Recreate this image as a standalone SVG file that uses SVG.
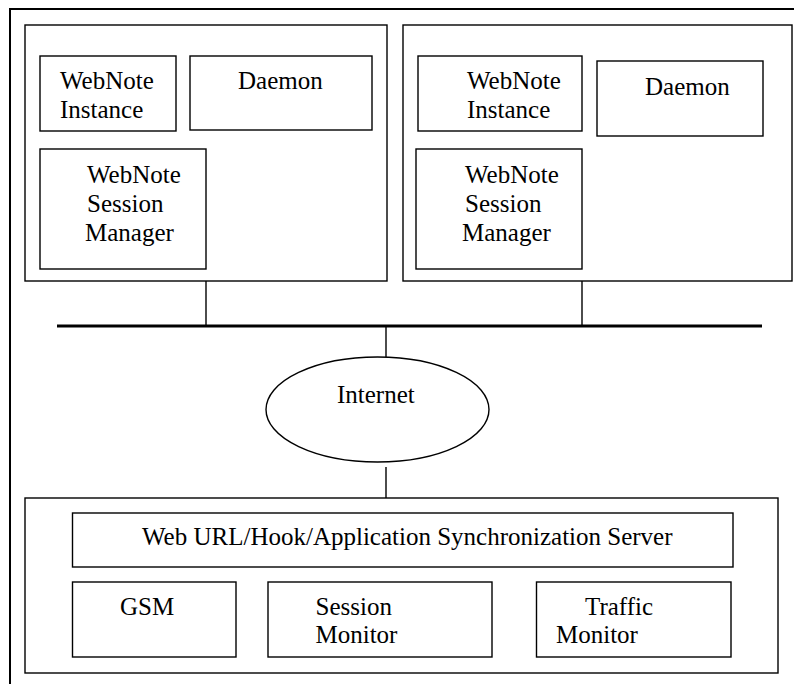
<svg xmlns="http://www.w3.org/2000/svg" width="794" height="684" viewBox="0 0 794 684">
<style>
  .box { fill: #fff; stroke: #000; stroke-width: 1.4; }
  .line { stroke: #000; stroke-width: 1.4; fill: none; }
  .bus { stroke: #000; stroke-width: 3.2; fill: none; }
  .frame { stroke: #000; stroke-width: 2; fill: none; }
  text { font-family: "Liberation Serif", "Times New Roman", serif; font-size: 25px; fill: #000; }
</style>
<rect x="0" y="0" width="794" height="684" fill="#fff"/>
<path class="frame" d="M10,684 V9 H794"/>

<g id="client-left">
  <rect class="box" x="25" y="25" width="362" height="256"/>
  <g id="left-instance">
    <rect class="box" x="40" y="56" width="136" height="75"/>
    <text x="60" y="89">WebNote</text>
    <text x="60" y="118">Instance</text>
  </g>
  <g id="left-daemon">
    <rect class="box" x="190" y="56" width="182" height="74"/>
    <text x="238" y="89">Daemon</text>
  </g>
  <g id="left-session-manager">
    <rect class="box" x="40" y="149" width="166" height="120"/>
    <text x="87" y="183">WebNote</text>
    <text x="87" y="212">Session</text>
    <text x="85" y="241">Manager</text>
  </g>
</g>

<g id="client-right">
  <rect class="box" x="403" y="25" width="389" height="256"/>
  <g id="right-instance">
    <rect class="box" x="418" y="56" width="164" height="75"/>
    <text x="467" y="89">WebNote</text>
    <text x="467" y="118">Instance</text>
  </g>
  <g id="right-daemon">
    <rect class="box" x="597" y="61" width="166" height="75"/>
    <text x="645" y="95">Daemon</text>
  </g>
  <g id="right-session-manager">
    <rect class="box" x="416" y="149" width="166" height="120"/>
    <text x="465" y="183">WebNote</text>
    <text x="465" y="212">Session</text>
    <text x="462" y="241">Manager</text>
  </g>
</g>

<g id="internet">
  <ellipse class="box" cx="377.5" cy="409.5" rx="111.5" ry="52.5"/>
  <text x="337" y="403">Internet</text>
</g>

<g id="server">
  <rect class="box" x="25" y="498" width="753" height="175"/>
  <g id="sync-server">
    <rect class="box" x="72.5" y="513" width="660.5" height="54"/>
    <text x="142" y="545">Web URL/Hook/Application Synchronization Server</text>
  </g>
  <g id="gsm">
    <rect class="box" x="72.5" y="582" width="163.5" height="75"/>
    <text x="120" y="615">GSM</text>
  </g>
  <g id="session-monitor">
    <rect class="box" x="268" y="582" width="224" height="75"/>
    <text x="315.5" y="615">Session</text>
    <text x="315.5" y="643">Monitor</text>
  </g>
  <g id="traffic-monitor">
    <rect class="box" x="536.5" y="582" width="194.5" height="75"/>
    <text x="585" y="615">Traffic</text>
    <text x="556" y="643">Monitor</text>
  </g>
</g>

<g id="connectors">
  <line class="bus" x1="57" y1="326" x2="762" y2="326"/>
  <line class="line" x1="206" y1="281" x2="206" y2="326"/>
  <line class="line" x1="582" y1="281" x2="582" y2="326"/>
  <line class="line" x1="386" y1="326" x2="386" y2="357"/>
  <line class="line" x1="386" y1="467" x2="386" y2="498"/>
</g>
</svg>
